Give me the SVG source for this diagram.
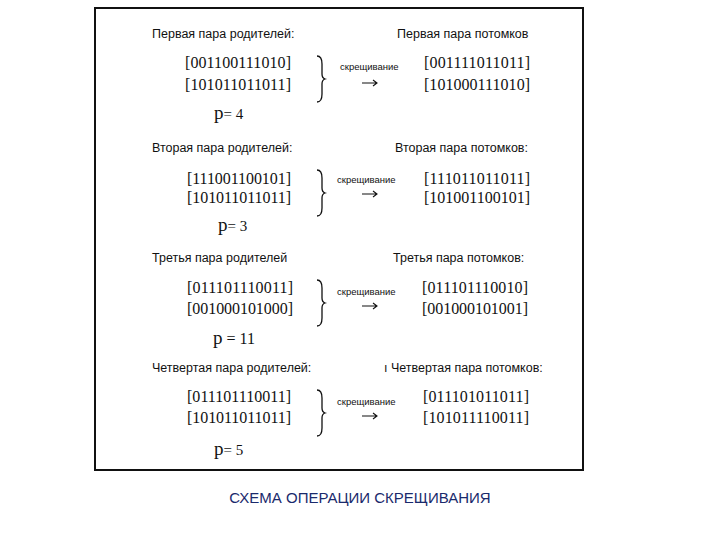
<svg xmlns="http://www.w3.org/2000/svg" width="720" height="540" viewBox="0 0 720 540">
<style>
.h{font-family:"Liberation Sans",Arial,sans-serif;font-size:12.5px;fill:#111}
.b{font-family:"Liberation Serif","Times New Roman",serif;font-size:16px;fill:#111}
.s{font-family:"Liberation Sans",Arial,sans-serif;font-size:9.5px;fill:#111}
.p{font-family:"Liberation Serif","Times New Roman",serif;font-size:19px;fill:#111}
.br{fill:none;stroke:#111;stroke-width:1.3}
.ar{fill:none;stroke:#111;stroke-width:1.1}
.t{font-family:"Liberation Sans",Arial,sans-serif;font-size:15px;fill:#1a2a6c}
</style>
<defs>
<path id="arr" class="ar" d="M0,0 h15 M11,-3 L15,0 L11,3"/>
</defs>
<rect width="720" height="540" fill="#fff"/>
<rect x="95" y="8" width="488" height="462" fill="none" stroke="#111" stroke-width="2"/>
<g id="block1">
<text class="h" x="152" y="38">Первая пара родителей:</text>
<text class="h" x="397" y="38">Первая пара потомков</text>
<text class="b" x="185" y="68" textLength="106">[001100111010]</text>
<text class="b" x="185" y="90" textLength="106">[101011011011]</text>
<path class="br" d="M317,56 q5,0 5,8 v10 q0,4 3,5 q-3,1 -3,5 v10 q0,8 -5,8"/>
<text class="s" x="340" y="70">скрещивание</text>
<use href="#arr" x="362" y="83"/>
<text class="b" x="424" y="68" textLength="106">[001111011011]</text>
<text class="b" x="424" y="90" textLength="106">[101000111010]</text>
<text class="p" x="214" y="119">p<tspan font-size="15">= 4</tspan></text>
</g>
<g id="block2">
<text class="h" x="152" y="152">Вторая пара родителей:</text>
<text class="h" x="395" y="152">Вторая пара потомков:</text>
<text class="b" x="187" y="184" textLength="104">[111001100101]</text>
<text class="b" x="187" y="203" textLength="104">[101011011011]</text>
<path class="br" d="M317,170 q5,0 5,8 v10 q0,4 3,5 q-3,1 -3,5 v10 q0,8 -5,8"/>
<text class="s" x="337" y="183">скрещивание</text>
<use href="#arr" x="362" y="194"/>
<text class="b" x="424" y="184" textLength="106">[111011011011]</text>
<text class="b" x="424" y="203" textLength="106">[101001100101]</text>
<text class="p" x="218" y="231">p<tspan font-size="15">= 3</tspan></text>
</g>
<g id="block3">
<text class="h" x="152" y="262">Третья пара родителей</text>
<text class="h" x="393" y="262">Третья пара потомков:</text>
<text class="b" x="187" y="293" textLength="106">[011101110011]</text>
<text class="b" x="187" y="314" textLength="106">[001000101000]</text>
<path class="br" d="M317,280 q5,0 5,8 v10 q0,4 3,5 q-3,1 -3,5 v10 q0,8 -5,8"/>
<text class="s" x="337" y="295">скрещивание</text>
<use href="#arr" x="362" y="306"/>
<text class="b" x="422" y="293" textLength="106">[011101110010]</text>
<text class="b" x="422" y="314" textLength="106">[001000101001]</text>
<text class="p" x="213" y="344">p<tspan font-size="16"> = 11</tspan></text>
</g>
<g id="block4">
<text class="h" x="152" y="372">Четвертая пара родителей:</text>
<text class="h" x="384" y="372">ı Четвертая пара потомков:</text>
<text class="b" x="187" y="402" textLength="104">[011101110011]</text>
<text class="b" x="187" y="423" textLength="104">[101011011011]</text>
<path class="br" d="M317,390 q5,0 5,8 v10 q0,4 3,5 q-3,1 -3,5 v10 q0,8 -5,8"/>
<text class="s" x="337" y="405">скрещивание</text>
<use href="#arr" x="362" y="416"/>
<text class="b" x="423" y="402" textLength="106">[011101011011]</text>
<text class="b" x="423" y="423" textLength="106">[101011110011]</text>
<text class="p" x="214" y="455">p<tspan font-size="15">= 5</tspan></text>
</g>
<text class="t" x="360" y="503" text-anchor="middle">СХЕМА ОПЕРАЦИИ СКРЕЩИВАНИЯ</text>
</svg>
